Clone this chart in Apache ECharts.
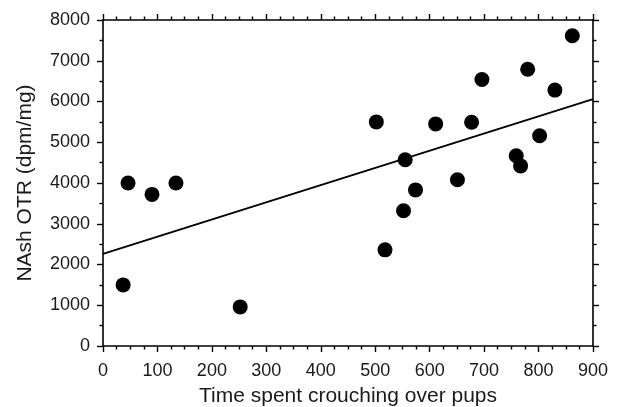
<!DOCTYPE html>
<html>
<head>
<meta charset="utf-8">
<script src="https://cdn.jsdelivr.net/npm/echarts@6/dist/echarts.min.js"></script>
<style>
html,body{margin:0;padding:0;background:#fff;}
#chart{width:621px;height:407px;}
</style>
</head>
<body>
<div id="chart"></div>
<script>
// Data
var crouchTime = [37, 46, 90, 134, 252, 502, 518, 552, 555, 574, 611, 651, 677, 696, 759, 767, 780, 802, 830, 862];
var nashOTR    = [1500, 4000, 3720, 4000, 960, 5500, 2360, 3320, 4570, 3830, 5450, 4080, 5490, 6540, 4670, 4420, 6790, 5160, 6280, 7615];
var fitX = [0, 900];
var fitY = [2260, 6060];
var xTitle = 'Time spent crouching over pups';
var yTitle = 'NAsh OTR (dpm/mg)';

var points = crouchTime.map(function (x, i) { return [x, nashOTR[i]]; });
var fitLine = fitX.map(function (x, i) { return [x, fitY[i]]; });

var FONT = '"Liberation Sans", Arial, Helvetica, sans-serif';
var TXT = '#1a1a1a';
function plain(v) { return String(v); }

function axisBase(show) {
  return {
    axisLine: { show: true, onZero: false, lineStyle: { color: '#000', width: 1.6 } },
    axisTick: { show: true, inside: false, length: 6, lineStyle: { color: '#000', width: 1.4 } },
    minorTick: { show: true, length: 3.5, lineStyle: { color: '#000', width: 1.4 } },
    splitLine: { show: false },
    axisLabel: { show: show }
  };
}

var xBottom = Object.assign(axisBase(true), {
  type: 'value', position: 'bottom', min: 0, max: 900, interval: 100,
  name: xTitle, nameLocation: 'middle', nameGap: 40, nameMoveOverlap: false,
  nameTextStyle: { fontFamily: FONT, fontSize: 21, color: TXT },
  axisLabel: { show: true, margin: 16, fontFamily: FONT, fontSize: 18, color: TXT, formatter: plain }
});
xBottom.minorTick.splitNumber = 4;
var xTop = Object.assign(axisBase(false), {
  type: 'value', position: 'top', min: 0, max: 900, interval: 100
});
xTop.minorTick.splitNumber = 4;

var yLeft = Object.assign(axisBase(true), {
  type: 'value', position: 'left', min: 0, max: 8000, interval: 1000,
  name: yTitle, nameLocation: 'middle', nameGap: 67, nameMoveOverlap: false,
  nameTextStyle: { fontFamily: FONT, fontSize: 21, color: TXT },
  axisLabel: { show: true, margin: 13, fontFamily: FONT, fontSize: 18, color: TXT, formatter: plain }
});
yLeft.minorTick.splitNumber = 2;
var yRight = Object.assign(axisBase(false), {
  type: 'value', position: 'right', min: 0, max: 8000, interval: 1000
});
yRight.minorTick.splitNumber = 2;

var chart = echarts.init(document.getElementById('chart'), null, { renderer: 'canvas' });
chart.setOption({
  animation: false,
  backgroundColor: '#fff',
  grid: { left: 103, right: 28, top: 20, bottom: 61, containLabel: false, outerBoundsMode: 'none' },
  xAxis: [xBottom, xTop],
  yAxis: [yLeft, yRight],
  series: [
    {
      type: 'line', xAxisIndex: 0, yAxisIndex: 0,
      data: fitLine, showSymbol: false, symbol: 'none',
      lineStyle: { color: '#000', width: 1.8 }, z: 2
    },
    {
      type: 'scatter', xAxisIndex: 0, yAxisIndex: 0,
      data: points, symbol: 'circle', symbolSize: 15,
      itemStyle: { color: '#000', opacity: 1 }, z: 3
    }
  ]
});
</script>
</body>
</html>
